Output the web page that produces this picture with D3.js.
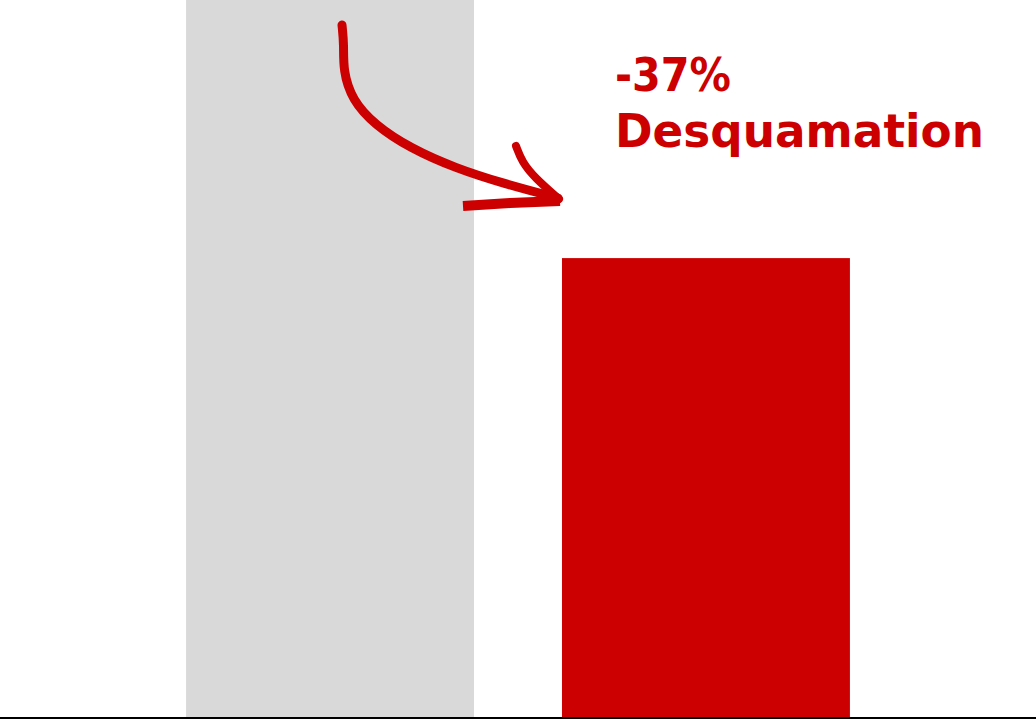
<!DOCTYPE html>
<html lang="fr">
<head>
<meta charset="UTF-8">
<script src="https://d3js.org/d3.v7.min.js"></script>
<style>
  body { margin: 0; background: #fff; }
  svg { display: block; }
</style>
<title>Desquamation</title>
</head>
<body>
<div class="canvas"></div>
<script>
  // data
  const categories = ['Avant', 'Après']
  const values = [100, 63]
  const colors = ['#d9d9d9', '#cc0000']
  const labelLines = ['-37%', 'Desquamation']

  const width = 1036
  const height = 720
  const baseY = 718

  const svg = d3.select('.canvas')
    .append('svg')
    .attr('width', width)
    .attr('height', height)

  const x = d3.scaleBand()
    .domain(categories)
    .range([0, width])
    .paddingInner(0.234)
    .paddingOuter(0.495)

  const y = d3.scaleLinear()
    .domain([0, 100])
    .range([baseY, -12])

  svg.selectAll('rect.bar')
    .data(values)
    .enter()
    .append('rect')
    .attr('class', 'bar')
    .attr('x', (d, i) => x(categories[i]))
    .attr('y', d => y(d))
    .attr('width', x.bandwidth())
    .attr('height', d => y(0) - y(d))
    .attr('fill', (d, i) => colors[i])

  // baseline
  const xAxis = d3.axisBottom(x).tickSize(0).tickFormat('')
  const axisG = svg.append('g')
    .attr('transform', `translate(0,${baseY})`)
    .call(xAxis)
  axisG.select('.domain')
    .attr('stroke', '#000')
    .attr('stroke-width', 2)
    .attr('d', `M0,0H${width}`)

  // annotation text
  const red = colors[1]
  const tx = x(categories[1]) + 53
  const widths = [116, 369]
  svg.append('text')
    .attr('fill', red)
    .style('font-family', '"DejaVu Sans", sans-serif')
    .style('font-weight', 700)
    .style('font-size', '47px')
    .selectAll('tspan')
    .data(labelLines)
    .enter()
    .append('tspan')
    .attr('x', tx)
    .attr('y', (d, i) => 91 + i * 56)
    .attr('textLength', (d, i) => widths[i])
    .attr('lengthAdjust', 'spacingAndGlyphs')
    .text(d => d)

  // hand drawn arrow
  const arrow = svg.append('g')
    .attr('fill', 'none')
    .attr('stroke', red)
    .attr('stroke-linecap', 'round')
    .attr('stroke-linejoin', 'round')

  const line = d3.line().curve(d3.curveBasis)
  const shaft = [[342, 25], [344, 45], [343, 70], [352, 100], [375, 125],
    [410, 148], [455, 168], [505, 184], [558, 198]]
  arrow.append('path')
    .attr('d', line(shaft))
    .attr('stroke-width', 9)
  arrow.append('path')
    .attr('d', line([[516, 146], [522, 162], [535, 178], [559, 199]]))
    .attr('stroke-width', 8)
  arrow.append('path')
    .attr('d', d3.line()([[463, 206], [510, 203], [560, 201]]))
    .attr('stroke', red)
    .attr('stroke-linecap', 'butt')
    .attr('stroke-width', 10)
</script>
</body>
</html>
